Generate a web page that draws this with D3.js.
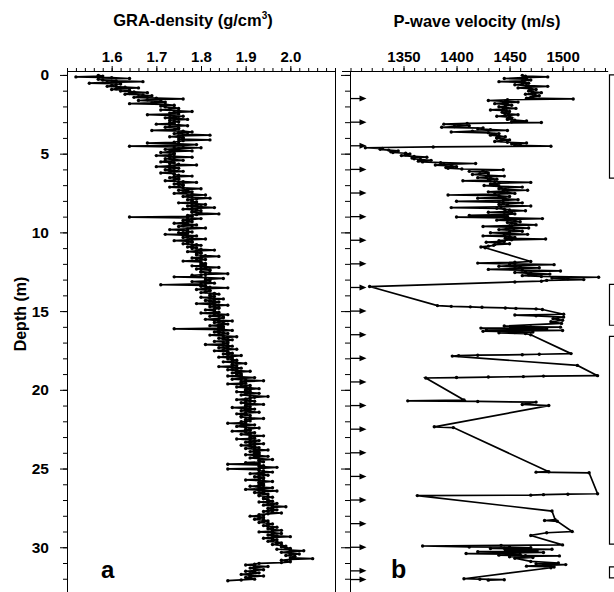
<!DOCTYPE html>
<html>
<head>
<meta charset="utf-8">
<script src="https://cdn.jsdelivr.net/npm/d3@7"></script>
<style>
  body { margin: 0; background: #fff; }
  text { font-family: "Liberation Sans", Arial, sans-serif; font-weight: bold; }
</style>
</head>
<body>
<svg id="chart" width="614" height="592"></svg>
<script>
// GRA density, one row per metre of core, 5 cm steps
const densityRows = [
  [1.57,1.58, 1.52,1.60, 1.64,1.57, 1.58,1.61, 1.67,1.59, 1.55,1.62, 1.61,1.60, 1.59,1.63, 1.66,1.61, 1.60,1.64],
  [1.62,1.65, 1.68,1.64, 1.63,1.67, 1.69,1.66, 1.65,1.70, 1.76,1.68, 1.66,1.71, 1.72,1.69, 1.64,1.72, 1.74,1.71],
  [1.72,1.74, 1.75,1.73, 1.71,1.75, 1.78,1.74, 1.73,1.75, 1.68,1.73, 1.76,1.74, 1.72,1.75, 1.77,1.73, 1.74,1.75],
  [1.73,1.74, 1.70,1.75, 1.77,1.73, 1.72,1.75, 1.75,1.74, 1.69,1.76, 1.78,1.75, 1.74,1.77, 1.82,1.75, 1.73,1.76],
  [1.76,1.75, 1.82,1.76, 1.75,1.74, 1.68,1.75, 1.79,1.76, 1.64,1.74, 1.80,1.75, 1.72,1.74, 1.78,1.73, 1.71,1.74],
  [1.74,1.73, 1.70,1.74, 1.78,1.73, 1.72,1.74, 1.76,1.72, 1.71,1.74, 1.73,1.75, 1.79,1.73, 1.70,1.74, 1.75,1.73],
  [1.72,1.74, 1.76,1.73, 1.71,1.74, 1.74,1.75, 1.78,1.74, 1.73,1.75, 1.75,1.74, 1.72,1.76, 1.79,1.75, 1.74,1.76],
  [1.76,1.75, 1.73,1.76, 1.80,1.77, 1.75,1.77, 1.78,1.76, 1.74,1.78, 1.81,1.77, 1.76,1.78, 1.82,1.79, 1.77,1.78],
  [1.78,1.79, 1.75,1.78, 1.81,1.79, 1.77,1.80, 1.83,1.78, 1.76,1.79, 1.80,1.78, 1.78,1.80, 1.84,1.79, 1.77,1.78],
  [1.64,1.77, 1.80,1.78, 1.76,1.77, 1.78,1.76, 1.74,1.77, 1.79,1.76, 1.75,1.78, 1.81,1.77, 1.73,1.76, 1.77,1.78],
  [1.75,1.77, 1.72,1.76, 1.79,1.77, 1.76,1.78, 1.81,1.77, 1.74,1.78, 1.78,1.77, 1.76,1.79, 1.80,1.78, 1.77,1.79],
  [1.78,1.80, 1.83,1.79, 1.77,1.80, 1.80,1.79, 1.79,1.81, 1.84,1.80, 1.78,1.80, 1.81,1.79, 1.76,1.80, 1.80,1.81],
  [1.80,1.81, 1.78,1.80, 1.84,1.81, 1.79,1.82, 1.82,1.80, 1.80,1.82, 1.86,1.81, 1.78,1.80, 1.74,1.81, 1.85,1.82],
  [1.81,1.82, 1.78,1.81, 1.83,1.80, 1.71,1.81, 1.80,1.82, 1.86,1.81, 1.79,1.82, 1.82,1.81, 1.80,1.83, 1.84,1.82],
  [1.82,1.83, 1.80,1.82, 1.85,1.83, 1.81,1.82, 1.84,1.83, 1.79,1.82, 1.86,1.83, 1.82,1.84, 1.84,1.83, 1.81,1.83],
  [1.83,1.84, 1.80,1.83, 1.86,1.84, 1.82,1.85, 1.85,1.84, 1.81,1.83, 1.87,1.84, 1.83,1.85, 1.86,1.84, 1.82,1.85],
  [1.84,1.85, 1.74,1.85, 1.87,1.84, 1.83,1.85, 1.86,1.84, 1.82,1.85, 1.88,1.86, 1.84,1.85, 1.87,1.86, 1.83,1.86],
  [1.85,1.86, 1.81,1.85, 1.87,1.86, 1.84,1.86, 1.88,1.85, 1.83,1.86, 1.86,1.87, 1.85,1.86, 1.89,1.87, 1.84,1.87],
  [1.86,1.87, 1.88,1.87, 1.85,1.88, 1.90,1.87, 1.87,1.88, 1.84,1.87, 1.89,1.88, 1.86,1.88, 1.91,1.88, 1.87,1.89],
  [1.88,1.89, 1.86,1.89, 1.92,1.89, 1.87,1.90, 1.94,1.89, 1.89,1.90, 1.86,1.89, 1.91,1.90, 1.88,1.91, 1.93,1.90],
  [1.90,1.91, 1.88,1.91, 1.93,1.90, 1.89,1.91, 1.95,1.92, 1.91,1.90, 1.88,1.91, 1.92,1.90, 1.89,1.91, 1.94,1.90],
  [1.90,1.91, 1.87,1.90, 1.92,1.90, 1.89,1.91, 1.93,1.90, 1.88,1.90, 1.91,1.89, 1.89,1.91, 1.94,1.90, 1.90,1.91],
  [1.89,1.90, 1.86,1.90, 1.92,1.89, 1.88,1.90, 1.93,1.91, 1.90,1.91, 1.87,1.90, 1.92,1.91, 1.89,1.91, 1.94,1.91],
  [1.91,1.92, 1.88,1.91, 1.93,1.92, 1.90,1.91, 1.94,1.92, 1.89,1.91, 1.92,1.93, 1.90,1.92, 1.95,1.92, 1.91,1.93],
  [1.92,1.93, 1.90,1.93, 1.95,1.92, 1.91,1.93, 1.96,1.93, 1.93,1.94, 1.90,1.93, 1.86,1.93, 1.94,1.93, 1.97,1.94],
  [1.86,1.93, 1.93,1.94, 1.96,1.93, 1.91,1.94, 1.95,1.93, 1.92,1.94, 1.94,1.93, 1.90,1.94, 1.96,1.93, 1.93,1.94],
  [1.93,1.94, 1.91,1.93, 1.96,1.94, 1.90,1.93, 1.97,1.94, 1.92,1.94, 1.95,1.93, 1.93,1.95, 1.96,1.94, 1.94,1.95],
  [1.95,1.96, 1.93,1.95, 1.97,1.96, 1.94,1.96, 1.99,1.96, 1.95,1.96, 1.97,1.95, 1.94,1.96, 1.98,1.95, 1.93,1.94],
  [1.91,1.93, 1.94,1.93, 1.92,1.94, 1.95,1.94, 1.93,1.95, 1.96,1.95, 1.94,1.95, 1.97,1.96, 1.95,1.96, 1.98,1.96],
  [1.93,1.96, 1.98,1.96, 1.95,1.97, 2.00,1.96, 1.94,1.96, 1.97,1.96, 1.95,1.97, 1.98,1.97, 1.96,1.98, 1.99,1.98],
  [1.99,2.00, 1.97,2.00, 2.03,2.00, 1.98,2.00, 2.02,2.00, 1.99,2.01, 2.01,2.00, 2.05,2.00, 1.98,1.99, 2.00,1.98],
  [1.93,1.92, 1.90,1.92, 1.95,1.92, 1.91,1.92, 1.94,1.92, 1.90,1.92, 1.93,1.91, 1.89,1.91, 1.94,1.91, 1.90,1.91],
  [1.92, 1.89, 1.86]
];

// P-wave velocity, upper 11 m at 5 cm steps
const pwaveRows = [
  [1462,1465, 1486,1463, 1445,1466, 1470,1462, 1440,1464, 1468,1462, 1455,1466, 1486,1468, 1458,1470, 1475,1469],
  [1468,1472, 1480,1471, 1465,1474, 1478,1472, 1470,1466, 1510,1448, 1430,1446, 1458,1444, 1436,1448, 1452,1446],
  [1440,1446, 1456,1444, 1432,1447, 1450,1443, 1445,1449, 1458,1446, 1438,1450, 1452,1448, 1448,1455, 1466,1452],
  [1480,1410, 1388,1402, 1412,1398, 1386,1425, 1420,1432, 1448,1415, 1395,1430, 1440,1436, 1432,1440, 1446,1438],
  [1438,1444, 1450,1442, 1436,1448, 1466,1452, 1460,1455, 1489,1378, 1314,1330, 1328,1336, 1345,1338, 1340,1352],
  [1356,1352, 1348,1360, 1372,1358, 1360,1366, 1376,1364, 1368,1385, 1418,1388, 1380,1395, 1400,1390, 1392,1405],
  [1444,1425, 1412,1428, 1430,1422, 1415,1430, 1445,1428, 1420,1432, 1438,1430, 1406,1436, 1470,1440, 1432,1438],
  [1426,1440, 1462,1442, 1440,1446, 1467,1444, 1430,1448, 1455,1436, 1392,1440, 1450,1442, 1420,1446, 1458,1444],
  [1400,1440, 1462,1444, 1440,1448, 1470,1442, 1395,1438, 1445,1450, 1465,1446, 1430,1452, 1455,1445, 1412,1448],
  [1400,1446, 1481,1450, 1438,1455, 1460,1448, 1452,1456, 1475,1450, 1425,1452, 1468,1447, 1440,1454, 1462,1450],
  [1432,1448, 1467,1445, 1425,1450, 1455,1446, 1484,1452, 1440,1445, 1428,1440, 1450,1436, 1435,1430, 1423,1427]
];

// P-wave velocity below 11 m: [depth, velocity]
const pwavePoints = [
  [11.85, 1470], [11.9, 1455], [11.95, 1420], [12.0, 1450], [12.05, 1492], [12.1, 1455],
  [12.15, 1440], [12.2, 1460], [12.25, 1478], [12.3, 1455], [12.35, 1430], [12.4, 1462],
  [12.45, 1498], [12.5, 1465], [12.55, 1455], [12.6, 1470], [12.65, 1488], [12.7, 1468],
  [12.75, 1462], [12.8, 1480], [12.85, 1534], [12.9, 1490], [12.95, 1505], [13.0, 1520],
  [13.05, 1485], [13.1, 1480], [13.15, 1455],
  [13.44, 1318],
  [14.65, 1382], [14.7, 1395], [14.73, 1413], [14.76, 1424], [14.8, 1446], [14.83, 1456],
  [14.86, 1475], [14.9, 1481],
  [15.2, 1501], [15.25, 1455], [15.3, 1475], [15.38, 1501], [15.48, 1491], [15.58, 1500],
  [15.68, 1489], [15.78, 1499],
  [15.95, 1445], [16.0, 1470], [16.02, 1498], [16.05, 1460], [16.08, 1423], [16.1, 1455],
  [16.13, 1485], [16.16, 1450], [16.18, 1428], [16.2, 1462], [16.23, 1500], [16.26, 1458],
  [16.28, 1425], [16.31, 1450], [16.33, 1472], [16.36, 1455], [16.38, 1440], [16.43, 1465],
  [16.5, 1470],
  [17.7, 1508], [17.74, 1478], [17.77, 1462], [17.8, 1420], [17.83, 1402], [17.86, 1396],
  [18.45, 1514],
  [19.1, 1533], [19.13, 1482], [19.16, 1463], [19.19, 1430], [19.22, 1400], [19.25, 1371],
  [20.65, 1407], [20.7, 1354], [20.74, 1420], [20.78, 1475], [20.93, 1462], [21.0, 1487],
  [22.35, 1379], [22.4, 1397],
  [25.2, 1487], [25.23, 1475], [25.27, 1525],
  [26.6, 1533], [26.63, 1505], [26.66, 1482], [26.69, 1470], [26.72, 1363],
  [27.7, 1490],
  [28.25, 1493], [28.3, 1483], [28.35, 1495],
  [29.0, 1509], [29.08, 1485], [29.25, 1470],
  [29.85, 1500], [29.88, 1442], [29.92, 1368], [29.98, 1412], [30.0, 1450], [30.03, 1470],
  [30.06, 1445], [30.08, 1432], [30.1, 1460], [30.13, 1490], [30.16, 1455], [30.18, 1446],
  [30.21, 1462], [30.23, 1476], [30.26, 1450], [30.28, 1420], [30.31, 1455], [30.33, 1482],
  [30.36, 1452], [30.4, 1409], [30.43, 1448], [30.45, 1460], [30.48, 1450], [30.5, 1440],
  [30.53, 1465], [30.55, 1497], [30.58, 1462], [30.6, 1450], [30.65, 1472], [30.7, 1455],
  [30.9, 1470], [31.0, 1496], [31.05, 1475], [31.1, 1503], [31.15, 1482], [31.2, 1466],
  [31.25, 1492], [31.3, 1489],
  [32.0, 1407], [32.03, 1422], [32.06, 1445], [32.09, 1430]
];

const densityTicks = [1.6, 1.7, 1.8, 1.9, 2.0];
const velocityTicks = [1350, 1400, 1450, 1500];
const depthTicks = [0, 5, 10, 15, 20, 25, 30];
const arrowDepths = [1.5, 3, 4.5, 6, 7.5, 9, 10.5, 12, 13.5, 15, 16.5, 18, 19.5, 21, 22.5,
  24, 25.5, 27, 28.5, 30, 31.5, 32.05];
const unitBrackets = [[0, 6.55], [13.3, 15.9], [16.6, 29.8], [31.25, 31.95]];

// rows hold one metre each, sampled every `step` metres
function rowsToPoints(rows, step) {
  let pts = [];
  rows.forEach((row, k) => row.forEach((v, i) => pts.push({ depth: k + (i + 0.5) * step, value: v })));
  return pts;
}

let density = rowsToPoints(densityRows, 0.05);
let pwave = rowsToPoints(pwaveRows, 0.05).concat(pwavePoints.map(d => ({ depth: d[0], value: d[1] })));

let svg = d3.select("#chart");

// scales
let y = d3.scaleLinear().domain([-0.25, 33.35]).range([71, 600]);
let xa = d3.scaleLinear().domain([1.5, 2.1]).range([67, 335]);
let xb = d3.scaleLinear().domain([1300, 1540]).range([350.5, 605]);

function styleAxis(g, size) {
  g.attr("font-family", "Liberation Sans, Arial, sans-serif")
    .attr("font-size", size)
    .attr("font-weight", "bold");
}

// panel a top axis
svg.append("g").attr("transform", "translate(0,71)")
  .call(d3.axisTop(xa).tickValues(d3.range(1.5, 2.101, 0.02)).tickSize(3).tickFormat("").tickSizeOuter(0));
svg.append("g").attr("transform", "translate(0,71)")
  .call(d3.axisTop(xa).tickValues(densityTicks).tickSize(5).tickPadding(4)
    .tickFormat(d3.format(".1f")).tickSizeOuter(0))
  .call(g => styleAxis(g, 15));

// panel b top axis
svg.append("g").attr("transform", "translate(0,71)")
  .call(d3.axisTop(xb).tickValues(d3.range(1300, 1541, 10)).tickSize(3).tickFormat("").tickSizeOuter(0))
  .call(g => g.select(".domain").remove());
svg.append("g").attr("transform", "translate(0,71)")
  .call(d3.axisTop(xb).tickValues(velocityTicks).tickSize(5).tickPadding(4)
    .tickFormat(d3.format("d")).tickSizeOuter(0))
  .call(g => g.select(".domain").remove())
  .call(g => styleAxis(g, 15));
svg.append("line")
  .attr("x1", xb(1292)).attr("x2", xb(1543))
  .attr("y1", 71.5).attr("y2", 71.5)
  .attr("stroke", "black");

// depth axes
svg.append("g").attr("transform", "translate(67,0)")
  .call(d3.axisLeft(y).tickValues(d3.range(0, 34, 1)).tickSize(4).tickFormat("").tickSizeOuter(0));
svg.append("g").attr("transform", "translate(67,0)")
  .call(d3.axisLeft(y).tickValues(depthTicks).tickSize(7).tickPadding(11).tickSizeOuter(0))
  .call(g => styleAxis(g, 15.5));

svg.append("g").attr("transform", `translate(${xb(1300) - 0.5},0)`)
  .call(d3.axisLeft(y).tickValues(d3.range(0, 34, 1)).tickSize(5).tickFormat("").tickSizeOuter(0));
svg.append("g").attr("transform", `translate(${xb(1300) - 0.5},0)`)
  .call(d3.axisLeft(y).tickValues(depthTicks).tickSize(9).tickFormat("").tickSizeOuter(0));

// right border of panel a
svg.append("line")
  .attr("x1", 335.5).attr("x2", 335.5)
  .attr("y1", 71).attr("y2", 600)
  .attr("stroke", "black");

// data profiles
function drawProfile(data, x) {
  let line = d3.line().x(d => x(d.value)).y(d => y(d.depth));
  svg.append("path")
    .datum(data)
    .attr("d", line)
    .attr("fill", "none")
    .attr("stroke", "black")
    .attr("stroke-width", 1.7);
  svg.append("g")
    .selectAll("circle")
    .data(data)
    .join("circle")
    .attr("cx", d => x(d.value))
    .attr("cy", d => y(d.depth))
    .attr("r", 1.7)
    .attr("fill", "black");
}
drawProfile(density, xa);
drawProfile(pwave, xb);

// section arrows
let x0 = xb(1300);
let arrows = svg.append("g").selectAll("g").data(arrowDepths).join("g")
  .attr("transform", d => `translate(${x0},${y(d)})`);
arrows.append("line")
  .attr("x1", 0).attr("x2", 11).attr("y1", 0).attr("y2", 0)
  .attr("stroke", "black").attr("stroke-width", 1.3);
arrows.append("path")
  .attr("d", "M9,-3L16,0L9,3Z")
  .attr("fill", "black");

// unit brackets on the right
let bx = 609.5;
unitBrackets.forEach(b => {
  svg.append("path")
    .attr("d", `M${bx + 10},${y(b[0])}H${bx}V${y(b[1])}H${bx + 10}`)
    .attr("fill", "none")
    .attr("stroke", "black")
    .attr("stroke-width", 1.2);
});

// titles
let titleA = svg.append("text")
  .attr("x", 193).attr("y", 26)
  .attr("text-anchor", "middle")
  .attr("font-size", 16.5);
titleA.append("tspan").text("GRA-density (g/cm");
titleA.append("tspan").attr("font-size", 10).attr("dy", -7).text("3");
titleA.append("tspan").attr("dy", 7).text(")");

svg.append("text")
  .attr("x", 477).attr("y", 27)
  .attr("text-anchor", "middle")
  .attr("font-size", 16.5)
  .text("P-wave velocity (m/s)");

svg.append("text")
  .attr("transform", "translate(26,314) rotate(-90)")
  .attr("text-anchor", "middle")
  .attr("font-size", 16)
  .text("Depth (m)");

svg.append("text").attr("x", 101).attr("y", 578).attr("font-size", 24).text("a");
svg.append("text").attr("x", 391).attr("y", 578).attr("font-size", 25).text("b");
</script>
</body>
</html>
